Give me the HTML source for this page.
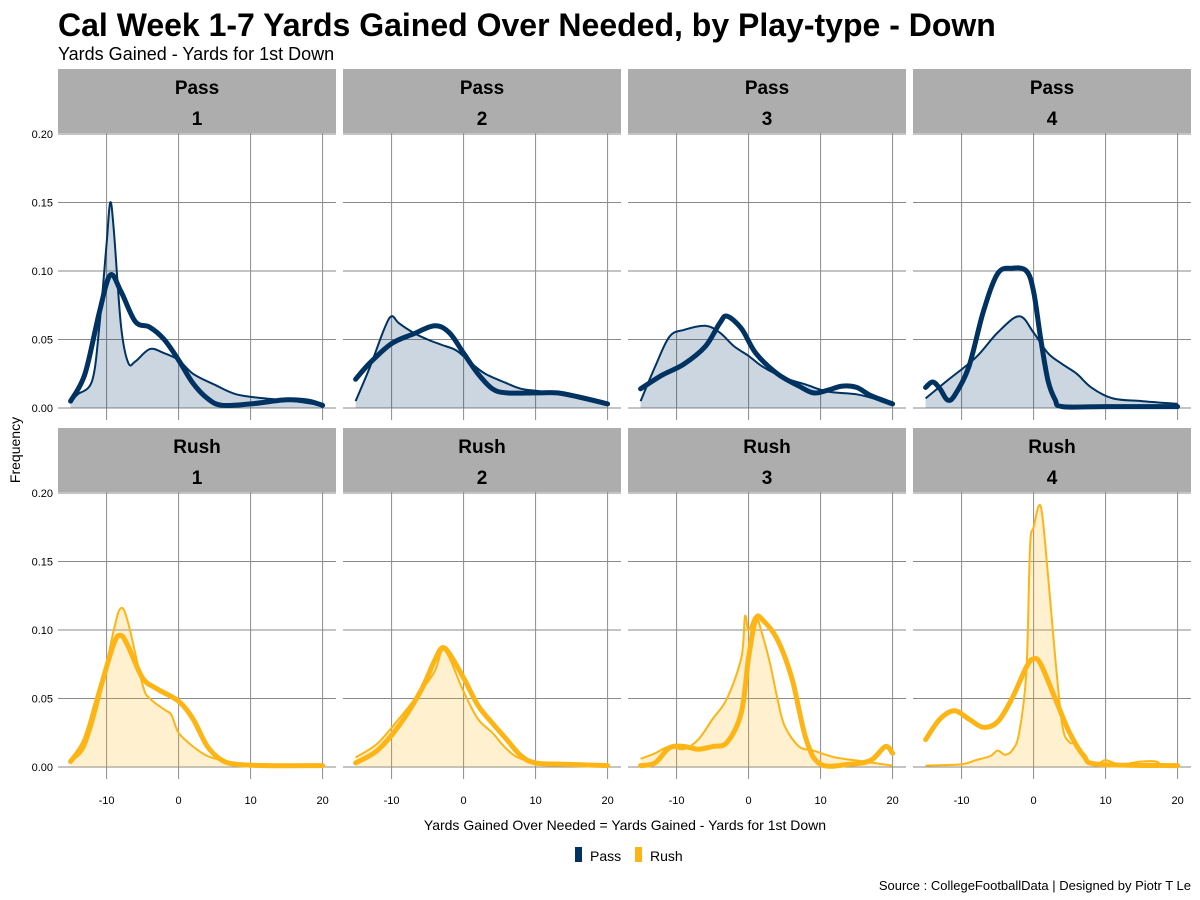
<!DOCTYPE html>
<html><head><meta charset="utf-8"><style>
body{margin:0;background:#fff;font-family:"Liberation Sans",Arial,sans-serif}
svg{display:block}
</style></head><body>
<svg id="chart" width="1200" height="900" xmlns="http://www.w3.org/2000/svg">
<text x="58" y="36" font-size="32" font-weight="bold" fill="#000">Cal Week 1-7 Yards Gained Over Needed, by Play-type - Down</text>
<text x="58" y="60" font-size="18" fill="#000">Yards Gained - Yards for 1st Down</text>
<text transform="translate(20,450) rotate(-90)" text-anchor="middle" font-size="14">Frequency</text>
<text x="625" y="830" text-anchor="middle" font-size="14">Yards Gained Over Needed = Yards Gained - Yards for 1st Down</text>
<g>
<rect x="575" y="847" width="7" height="15" fill="#003262"/>
<text x="590" y="861" font-size="14">Pass</text>
<rect x="635" y="847" width="7" height="15" fill="#FDB515"/>
<text x="650" y="861" font-size="14">Rush</text>
</g>
<text x="1191" y="890" text-anchor="end" font-size="13">Source : CollegeFootballData | Designed by Piotr T Le</text>
<g id="panels"></g>
</svg>
<script>
const playTypes=["Pass","Pass","Pass","Pass","Rush","Rush","Rush","Rush"];
const downs=["1","2","3","4","1","2","3","4"];
const xTicks=[-10,0,10,20];
const yTicks=[0,0.05,0.10,0.15,0.20];
const yTickLabels=["0.00","0.05","0.10","0.15","0.20"];
// thin (filled) curves
const thinX=[
[-15,-14,-12,-11,-10,-9.5,-9,-8,-7,-6,-4,-2,0,2,5,8,12,16,20],
[-15,-13,-11,-10,-9,-7,-5,-3,-1,1,3,6,8,11,15,20],
[-15,-13,-11,-9,-6,-4,-2,0,2,5,8,11,15,18,20],
[-15,-12,-8,-5,-2,0,2,4,6,8,11,15,20],
[-15,-13,-11,-9,-8,-7,-5,-4,-2,-1,0,2,4,6,8,12,20],
[-15,-12,-9,-6,-4,-3,-2,0,2,4,6,8,12,20],
[-15,-13,-11,-9,-7,-5,-3,-1,-0.5,0,1,2,3,4,5,7,9,12,16,20],
[-15,-10,-8,-6,-5,-4,-3,-2,-1,-0.5,0,1,2,3,4,5,6,7,9,10,12,15,17,18,20]];
const thinY=[
[0.005,0.01,0.02,0.06,0.12,0.15,0.13,0.06,0.033,0.034,0.043,0.04,0.035,0.025,0.017,0.01,0.007,0.005,0.002],
[0.005,0.03,0.058,0.067,0.062,0.055,0.05,0.046,0.042,0.033,0.025,0.018,0.014,0.012,0.009,0.003],
[0.005,0.03,0.052,0.057,0.06,0.055,0.045,0.038,0.03,0.022,0.017,0.012,0.01,0.006,0.003],
[0.007,0.02,0.037,0.055,0.067,0.055,0.04,0.032,0.025,0.015,0.007,0.005,0.003],
[0.004,0.015,0.05,0.1,0.116,0.105,0.06,0.05,0.042,0.038,0.025,0.015,0.008,0.005,0.003,0.002,0.001],
[0.007,0.017,0.035,0.055,0.07,0.085,0.08,0.055,0.035,0.025,0.013,0.006,0.002,0.001],
[0.006,0.01,0.015,0.013,0.02,0.035,0.05,0.08,0.11,0.1,0.11,0.095,0.075,0.05,0.03,0.015,0.012,0.007,0.004,0.001],
[0.001,0.002,0.005,0.008,0.012,0.009,0.012,0.025,0.07,0.16,0.175,0.19,0.14,0.08,0.03,0.018,0.017,0.006,0.003,0.005,0.002,0.004,0.004,0.001,0.001]];
// thick (unfilled) curves
const thickX=[
[-15,-13,-11,-9.5,-8,-6,-4,-2,0,2,4,6,10,15,18,20],
[-15,-13,-10,-7,-4,-2,0,2,4,6,10,13,16,20],
[-15,-12,-9,-6,-4,-3,-1,1,4,7,9,11,13,15,17,20],
[-15,-14,-13,-12,-11,-9,-7,-5,-3,-1,0,1,2,3,4,10,20],
[-15,-13,-11,-9,-8,-7,-5,-3,0,2,4,6,8,12,20],
[-15,-12,-9,-6,-4,-3,-2,0,2,4,6,8,10,14,20],
[-15,-13,-11,-9,-7,-5,-3,-1,0,1,2,4,6,8,10,14,17,19,20],
[-15,-13,-11,-9,-7,-5,-3,-1,0,1,3,5,7,9,20]];
const thickY=[
[0.005,0.025,0.07,0.097,0.085,0.063,0.059,0.05,0.035,0.018,0.007,0.002,0.003,0.006,0.005,0.002],
[0.021,0.033,0.047,0.054,0.06,0.055,0.04,0.025,0.014,0.011,0.011,0.011,0.008,0.003],
[0.014,0.024,0.032,0.045,0.062,0.067,0.058,0.04,0.025,0.016,0.011,0.013,0.016,0.015,0.009,0.003],
[0.015,0.019,0.014,0.006,0.009,0.03,0.07,0.098,0.102,0.1,0.085,0.05,0.02,0.006,0.001,0.001,0.001],
[0.004,0.02,0.055,0.09,0.096,0.088,0.065,0.057,0.048,0.035,0.015,0.005,0.002,0.001,0.001],
[0.003,0.012,0.03,0.055,0.078,0.087,0.083,0.065,0.045,0.032,0.02,0.008,0.003,0.002,0.001],
[0.001,0.003,0.014,0.015,0.013,0.015,0.018,0.04,0.08,0.108,0.107,0.093,0.065,0.02,0.002,0.002,0.005,0.015,0.01],
[0.02,0.035,0.041,0.035,0.029,0.033,0.05,0.073,0.079,0.075,0.05,0.025,0.008,0.002,0.001]];

const NS="http://www.w3.org/2000/svg";
const cols=[58,343,628,913], pw=278;
const rowsTop=[69,428], stripH=64, panH=287, y0s=[408,767];
const colors={Pass:["#003262","rgba(0,50,98,0.2)"],Rush:["#FDB515","rgba(253,181,21,0.2)"]};
function el(t,a,p){const e=document.createElementNS(NS,t);for(const k in a)e.setAttribute(k,a[k]);p.appendChild(e);return e;}
function smooth(pts){
  let d="M"+pts[0][0]+","+pts[0][1];
  for(let i=0;i<pts.length-1;i++){
    const p0=pts[Math.max(0,i-1)],p1=pts[i],p2=pts[i+1],p3=pts[Math.min(pts.length-1,i+2)];
    const c1=[p1[0]+(p2[0]-p0[0])/6,p1[1]+(p2[1]-p0[1])/6];
    const c2=[p2[0]-(p3[0]-p1[0])/6,p2[1]-(p3[1]-p1[1])/6];
    d+=" C"+c1[0].toFixed(1)+","+c1[1].toFixed(1)+" "+c2[0].toFixed(1)+","+c2[1].toFixed(1)+" "+p2[0].toFixed(1)+","+p2[1].toFixed(1);
  }
  return d;
}
const root=document.getElementById("panels");
for(let i=0;i<8;i++){
  const r=Math.floor(i/4),c=i%4,left=cols[c],top=rowsTop[r],ptop=top+stripH,y0=y0s[r];
  const xs=v=>left+(v+16.75)*7.2, ys=v=>y0-v*1370;
  const g=el("g",{},root);
  
  
  const strip=el("rect",{x:left,y:top,width:pw,height:stripH,fill:"#adadad"},g);
  
  
  const t1=el("text",{x:left+pw/2,y:top+25,"text-anchor":"middle","font-size":19,"font-weight":"bold"},g);t1.textContent=playTypes[i];
  
  
  const t2=el("text",{x:left+pw/2,y:top+56,"text-anchor":"middle","font-size":19,"font-weight":"bold"},g);t2.textContent=downs[i];
  
  
  yTicks.forEach((v,k)=>{
    const l=el("line",{x1:left,x2:left+pw,y1:ys(v),y2:ys(v),stroke:"#8a8a8a","stroke-width":1},g);
    
    
    if(c===0){const t=el("text",{x:left-5,y:ys(v)+4,"text-anchor":"end","font-size":11},g);t.textContent=yTickLabels[k];
      
      }
  });
  xTicks.forEach(v=>{
    const l=el("line",{x1:xs(v),x2:xs(v),y1:ptop,y2:ptop+panH,stroke:"#8a8a8a","stroke-width":1},g);
    
    
    if(r===1){const t=el("text",{x:xs(v),y:804,"text-anchor":"middle","font-size":11},g);t.textContent=v;
      
      }
  });
  const col=colors[playTypes[i]];
  const tp=thinX[i].map((x,k)=>[xs(x),ys(thinY[i][k])]);
  const td=smooth(tp);
  const area=el("path",{d:td+" L"+tp[tp.length-1][0]+","+y0+" L"+tp[0][0]+","+y0+" Z",fill:col[1],stroke:"none"},g);
  
  
  const thin=el("path",{d:td,fill:"none",stroke:col[0],"stroke-width":2},g);
  
  
  const kp=thickX[i].map((x,k)=>[xs(x),ys(thickY[i][k])]);
  const thick=el("path",{d:smooth(kp),fill:"none",stroke:col[0],"stroke-width":5,"stroke-linecap":"round","stroke-linejoin":"round"},g);
  
  
}
</script>
</body></html>
